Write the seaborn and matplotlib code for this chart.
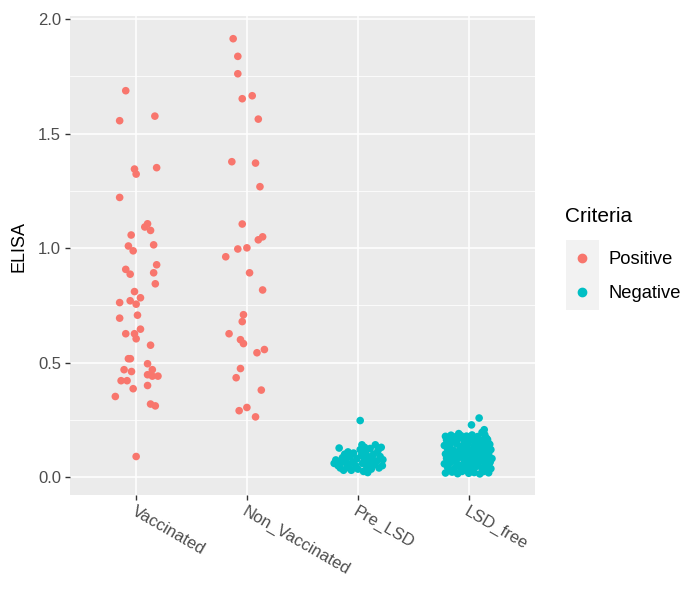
import numpy as np
import pandas as pd
import matplotlib
matplotlib.use("Agg")
import matplotlib.pyplot as plt
import seaborn as sns
from matplotlib.lines import Line2D
from matplotlib.patches import Rectangle

# 데이터
groups = ["Vaccinated", "Non_Vaccinated", "Pre_LSD", "LSD_free"]
criteria = ["Positive", "Negative"]
colors = ["#F8766D", "#00BFC4"]

vacc_elisa = [1.687, 1.576, 1.556, 1.345, 1.323, 1.351, 1.221, 1.106, 1.092, 1.077,
              1.057, 1.009, 0.988, 1.014, 0.927, 0.907, 0.886, 0.892, 0.844, 0.810,
              0.762, 0.770, 0.783, 0.755, 0.694, 0.707, 0.646, 0.626, 0.626, 0.604,
              0.576, 0.517, 0.517, 0.495, 0.469, 0.469, 0.461, 0.447, 0.441, 0.441,
              0.421, 0.421, 0.400, 0.386, 0.352, 0.319, 0.311, 0.090]
vacc_jitter = [-0.097, 0.166, -0.152, -0.018, -0.003, 0.182, -0.152, 0.100, 0.075, 0.127,
               -0.048, -0.073, -0.030, 0.155, 0.182, -0.097, -0.057, 0.155, 0.170, -0.018,
               -0.152, -0.057, 0.036, -0.003, -0.152, 0.009, 0.036, -0.097, -0.018, -0.003,
               0.127, -0.073, -0.055, 0.100, 0.143, -0.112, -0.045, 0.100, 0.143, 0.194,
               -0.139, -0.085, 0.100, -0.030, -0.191, 0.127, 0.170, -0.003]

nonvacc_elisa = [1.914, 1.837, 1.761, 1.665, 1.652, 1.563, 1.377, 1.371, 1.268, 1.105,
                 1.049, 1.036, 1.001, 0.996, 0.962, 0.892, 0.817, 0.709, 0.679, 0.626,
                 0.600, 0.583, 0.557, 0.543, 0.474, 0.434, 0.380, 0.304, 0.290, 0.263]
nonvacc_jitter = [-0.127, -0.085, -0.085, 0.045, -0.045, 0.100, -0.139, 0.075, 0.115, -0.045,
                  0.139, 0.100, -0.003, -0.085, -0.194, 0.021, 0.139, -0.034, -0.045, -0.164,
                  -0.061, -0.034, 0.155, 0.088, -0.061, -0.100, 0.127, -0.003, -0.073, 0.075]

prelsd_elisa = [0.060, 0.075, 0.127, 0.050, 0.065, 0.085, 0.100, 0.040, 0.055, 0.075,
                0.110, 0.040, 0.090, 0.065, 0.030, 0.105, 0.050, 0.080, 0.035, 0.120,
                0.141, 0.095, 0.060, 0.025, 0.075, 0.110, 0.045, 0.020, 0.090, 0.060,
                0.125, 0.035, 0.080, 0.100, 0.141, 0.055, 0.070, 0.115, 0.040, 0.090,
                0.130, 0.076, 0.050, 0.247, 0.030, 0.130]
prelsd_jitter = [-0.215, -0.200, -0.170, -0.180, -0.150, -0.140, -0.120, -0.160, -0.100, -0.110,
                 -0.090, -0.080, -0.070, -0.050, -0.060, -0.040, -0.020, -0.010, 0.000, 0.020,
                 0.036, 0.030, 0.040, 0.050, 0.060, 0.070, 0.080, 0.088, 0.090, 0.100,
                 0.110, 0.120, 0.130, 0.140, 0.157, 0.150, 0.170, 0.180, 0.190, 0.200,
                 0.210, 0.225, 0.220, 0.020, -0.130, 0.060]

lsd_elisa = [0.018, 0.022, 0.015, 0.025, 0.017, 0.020, 0.014, 0.024, 0.019,
             0.042, 0.038, 0.045, 0.036, 0.041, 0.047, 0.039, 0.044, 0.037,
             0.058, 0.063, 0.061, 0.057, 0.066, 0.060, 0.064, 0.059, 0.062,
             0.082, 0.078, 0.085, 0.080, 0.077, 0.084, 0.079, 0.083, 0.081,
             0.101, 0.098, 0.104, 0.097, 0.103, 0.099, 0.105, 0.100, 0.102,
             0.122, 0.118, 0.121, 0.125, 0.117, 0.123, 0.119, 0.124, 0.120,
             0.138, 0.142, 0.145, 0.137, 0.141, 0.139, 0.144, 0.136, 0.143,
             0.162, 0.158, 0.165, 0.160, 0.163, 0.157, 0.161, 0.164,
             0.178, 0.183, 0.176, 0.181, 0.179, 0.184, 0.177, 0.185,
             0.030, 0.052, 0.071, 0.090, 0.112, 0.131, 0.150, 0.028, 0.069, 0.110,
             0.258, 0.228, 0.207, 0.195, 0.190, 0.150, 0.170]
lsd_jitter = [-0.21, -0.15, -0.10, -0.06, 0.00, 0.05, 0.10, 0.13, 0.18,
              -0.19, -0.13, -0.08, -0.03, 0.02, 0.07, 0.12, 0.16, 0.20,
              -0.22, -0.17, -0.11, -0.05, -0.01, 0.04, 0.09, 0.15, 0.19,
              -0.20, -0.14, -0.09, -0.04, 0.01, 0.06, 0.11, 0.17, 0.21,
              -0.21, -0.16, -0.12, -0.07, -0.02, 0.03, 0.08, 0.13, 0.18,
              -0.19, -0.14, -0.08, -0.03, 0.02, 0.07, 0.11, 0.16, 0.20,
              -0.22, -0.17, -0.11, -0.06, -0.01, 0.05, 0.10, 0.14, 0.19,
              -0.20, -0.15, -0.10, -0.04, 0.01, 0.06, 0.12, 0.17,
              -0.21, -0.16, -0.12, -0.07, -0.02, 0.03, 0.08, 0.145,
              -0.175, -0.025, 0.115, -0.135, 0.035, -0.195, 0.085, 0.145, 0.195, -0.045,
              0.094, 0.025, 0.140, 0.120, -0.090, 0.175, 0.160]

# 데이터프레임
rows = []
for g, vals, jit, crit in [("Vaccinated", vacc_elisa, vacc_jitter, "Positive"),
                           ("Non_Vaccinated", nonvacc_elisa, nonvacc_jitter, "Positive"),
                           ("Pre_LSD", prelsd_elisa, prelsd_jitter, "Negative"),
                           ("LSD_free", lsd_elisa, lsd_jitter, "Negative")]:
    for v, j in zip(vals, jit):
        rows.append({"Group": g, "ELISA": v, "pos": groups.index(g) + j, "Criteria": crit})
df = pd.DataFrame(rows)

plt.rcParams["font.family"] = ["Liberation Sans", "DejaVu Sans"]

fig = plt.figure(figsize=(6.8, 5.89), dpi=100)
ax = fig.add_axes([0.103, 0.160, 0.684, 0.812])
ax.set_facecolor("#EBEBEB")

sns.scatterplot(data=df, x="pos", y="ELISA", hue="Criteria", hue_order=criteria,
                palette=colors, s=30, linewidth=0, edgecolor="none", ax=ax,
                legend=False, zorder=3)

ax.set_xlim(-0.6, 3.6)
ax.set_ylim(-0.077, 2.011)
ax.set_xticks(range(len(groups)))
ax.set_xticklabels(groups, rotation=-30, ha="left", va="top", rotation_mode="anchor")
ax.set_yticks([0, 0.5, 1.0, 1.5, 2.0])
ax.set_yticklabels(["0.0", "0.5", "1.0", "1.5", "2.0"])
ax.set_yticks([0.25, 0.75, 1.25, 1.75], minor=True)

ax.grid(True, which="major", color="white", linewidth=1.1, zorder=1)
ax.grid(True, which="minor", axis="y", color="white", linewidth=0.55, zorder=1)
ax.set_axisbelow(True)
for sp in ax.spines.values():
    sp.set_visible(False)
ax.tick_params(axis="both", which="major", length=3.5, width=1.0, color="#333333",
               labelcolor="#4D4D4D", labelsize=12, pad=3)
ax.tick_params(axis="both", which="minor", length=0)
ax.set_xlabel("")
ax.set_ylabel("ELISA", fontsize=13, color="black")
ax.yaxis.set_label_coords(-0.092, 0.52)

# 범례 (제목은 따로)
fig.text(0.831, 1 - 216 / 589, "Criteria", fontsize=15, ha="left", va="center")
handles = [Line2D([], [], marker="o", ls="", color=c, markersize=6) for c in colors]
leg = ax.legend(handles, criteria, loc="upper left",
                bbox_to_anchor=(0.8335, 1 - 251 / 589), bbox_transform=fig.transFigure,
                frameon=False, fontsize=13.2,
                handlelength=1.7, handletextpad=0.55, labelspacing=0.95,
                borderpad=0, borderaxespad=0)

fig.canvas.draw()
for h in leg.legend_handles:
    bb = h.get_window_extent(fig.canvas.get_renderer())
    cx, cy = (bb.x0 + bb.x1) / 2, (bb.y0 + bb.y1) / 2
    fig.add_artist(Rectangle((cx - 16.5, cy - 17.5), 33, 35, transform=None,
                             facecolor="#F2F2F2", edgecolor="none", zorder=-1))

fig.savefig("out.png", dpi=100)
